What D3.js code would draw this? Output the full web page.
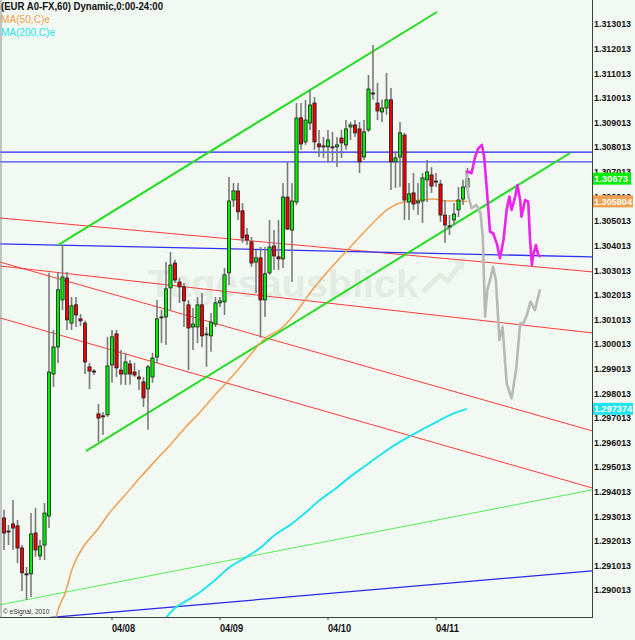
<!DOCTYPE html>
<html><head><meta charset="utf-8">
<script src="https://cdn.jsdelivr.net/npm/d3@7"></script>
<style>
html,body{margin:0;padding:0;background:#f2f8f2;}
svg{display:block;font-family:"Liberation Sans",Arial,sans-serif;}
</style></head><body>
<svg id="c" width="635" height="640"></svg>
<script>
// ---------- DATA ----------
const dayTicks = [24, 48, 72, 96];
const dayLabels = ["04/08", "04/09", "04/10", "04/11"];
const yTickLabels = ["1.313013","1.312013","1.311013","1.310013","1.309013","1.308013","1.307013","1.306013",
  "1.305013","1.304013","1.303013","1.302013","1.301013","1.300013","1.299013","1.298013","1.297013",
  "1.296013","1.295013","1.294013","1.293013","1.292013","1.291013","1.290013"];

const opens = [1.29294,1.29241,1.29270,1.29262,1.29172,1.29067,1.29067,1.29233,1.29140,1.29184,
1.29302,1.29879,1.29989,1.30180,1.30269,1.30086,1.30160,1.30103,1.30086,1.29908,
1.29891,1.29717,1.29709,1.29713,1.29916,1.30042,1.29895,1.29879,1.29920,1.29887,
1.29867,1.29847,1.29818,1.29867,1.29948,1.30107,1.30111,1.30229,1.30330,1.30253,
1.30233,1.30160,1.30070,1.30070,1.30160,1.30038,1.30034,1.30082,1.30168,1.30172,
1.30290,1.30586,1.30623,1.30542,1.30444,1.30416,1.30334,1.30351,1.30180,1.30290,
1.30399,1.30355,1.30347,1.30598,1.30464,1.30578,1.30920,1.30822,1.30899,1.30980,
1.30814,1.30806,1.30802,1.30802,1.30802,1.30838,1.30810,1.30883,1.30891,1.30875,
1.30761,1.30871,1.31021,1.30980,1.30944,1.30960,1.30993,1.30741,1.30761,1.30850,
1.30578,1.30615,1.30574,1.30582,1.30668,1.30688,1.30663,1.30651,1.30525,1.30477,
1.30505,1.30546,1.30590,1.30639];
const highs = [1.29327,1.29266,1.29367,1.29286,1.29184,1.29095,1.29314,1.29335,1.29205,1.29355,
1.30290,1.30058,1.30294,1.30403,1.30294,1.30192,1.30192,1.30123,1.30095,1.29924,
1.29899,1.29757,1.29725,1.30030,1.30058,1.30058,1.29977,1.29965,1.29936,1.29924,
1.29895,1.29867,1.29916,1.29965,1.30180,1.30139,1.30334,1.30375,1.30343,1.30269,
1.30249,1.30180,1.30147,1.30192,1.30208,1.30070,1.30127,1.30192,1.30192,1.30310,
1.30680,1.30655,1.30655,1.30574,1.30472,1.30436,1.30383,1.30395,1.30395,1.30505,
1.30464,1.30505,1.30655,1.30741,1.30655,1.30980,1.30980,1.30993,1.31033,1.31005,
1.30871,1.30842,1.30871,1.30863,1.30842,1.30871,1.30911,1.30903,1.30911,1.30903,
1.30911,1.31094,1.31216,1.31062,1.30993,1.31102,1.31041,1.30777,1.30903,1.30859,
1.30655,1.30696,1.30655,1.30696,1.30749,1.30720,1.30696,1.30668,1.30586,1.30525,
1.30574,1.30639,1.30668,1.30716];
const lows = [1.29164,1.29184,1.29164,1.29111,1.28997,1.28961,1.28973,1.29136,1.29123,1.29123,
1.29253,1.29826,1.29924,1.30139,1.30058,1.30058,1.30070,1.30074,1.29879,1.29818,
1.29875,1.29603,1.29631,1.29704,1.29843,1.29867,1.29835,1.29835,1.29835,1.29867,
1.29814,1.29745,1.29652,1.29843,1.29924,1.30005,1.29997,1.30139,1.30249,1.30168,
1.30070,1.29895,1.29977,1.30005,1.29989,1.29908,1.29969,1.30070,1.30151,1.30119,
1.30241,1.30558,1.30505,1.30412,1.30403,1.30314,1.30208,1.30026,1.30111,1.30282,
1.30302,1.30302,1.30310,1.30464,1.30253,1.30566,1.30790,1.30810,1.30871,1.30790,
1.30761,1.30757,1.30737,1.30741,1.30720,1.30757,1.30790,1.30830,1.30842,1.30696,
1.30749,1.30863,1.30993,1.30911,1.30903,1.30932,1.30627,1.30635,1.30639,1.30505,
1.30505,1.30546,1.30525,1.30493,1.30578,1.30615,1.30639,1.30497,1.30412,1.30444,
1.30485,1.30517,1.30566,1.30627];
const closes = [1.29233,1.29237,1.29253,1.29172,1.29071,1.29063,1.29229,1.29164,1.29180,1.29314,
1.29887,1.29989,1.30221,1.30273,1.30099,1.30156,1.30119,1.30095,1.29928,1.29891,
1.29887,1.29700,1.29707,1.29912,1.30030,1.29904,1.29879,1.29928,1.29879,1.29875,
1.29859,1.29782,1.29908,1.29944,1.30103,1.30111,1.30225,1.30322,1.30261,1.30233,
1.30176,1.30066,1.30082,1.30160,1.30034,1.30042,1.30090,1.30168,1.30176,1.30282,
1.30582,1.30623,1.30538,1.30432,1.30424,1.30330,1.30351,1.30180,1.30286,1.30395,
1.30359,1.30347,1.30598,1.30468,1.30582,1.30919,1.30814,1.30911,1.30972,1.30822,
1.30802,1.30805,1.30830,1.30801,1.30810,1.30818,1.30875,1.30891,1.30859,1.30741,
1.30863,1.31037,1.31020,1.30948,1.30960,1.30993,1.30741,1.30757,1.30859,1.30586,
1.30611,1.30570,1.30582,1.30676,1.30700,1.30643,1.30662,1.30525,1.30485,1.30481,
1.30529,1.30586,1.30639,1.30673];

// moving averages [hour, price]
const ma50 = [[10.7,1.28798],[11.7,1.28900],[13.6,1.28989],[15.3,1.29095],[17.6,1.29176],[20.7,1.29245],
[23.6,1.29318],[26.9,1.29387],[30.2,1.29457],[33.6,1.29526],[36.9,1.29591],[40.2,1.29660],[43.6,1.29725],
[46.9,1.29794],[49.8,1.29851],[52.0,1.29896],[54.7,1.29956],[57.6,1.30017],[62.0,1.30070],[65.3,1.30139],
[68.0,1.30208],[71.3,1.30282],[74.7,1.30351],[78.4,1.30424],[82.0,1.30493],[85.1,1.30546],[88.0,1.30574],
[92.4,1.30586],[95.3,1.30590],[98.4,1.30582],[101.3,1.30582],[102.9,1.305804]];
const ma200 = [[34.7,1.28859],[38.0,1.28928],[40.9,1.28961],[43.6,1.28993],[46.9,1.29042],[50.2,1.29095],
[53.6,1.29132],[56.9,1.29172],[60.2,1.29225],[63.6,1.29266],[66.9,1.29314],[70.2,1.29367],[73.6,1.29412],
[76.9,1.29461],[80.2,1.29505],[83.6,1.29550],[86.9,1.29591],[90.2,1.29627],[93.6,1.29660],[96.9,1.29692],
[100.2,1.29721],[102.9,1.297374]];

// projections [hour, price]
const projGray = [[102.7,1.30708],[103.2,1.30600],[103.9,1.30553],[105.0,1.30566],[105.9,1.30532],[106.4,1.30437],
[106.9,1.30112],[107.4,1.30221],[108.2,1.30275],[108.7,1.30315],[109.3,1.30261],[110.1,1.30017],[110.8,1.30071],
[111.7,1.29841],[112.8,1.29780],[113.8,1.29896],[114.7,1.30085],[115.4,1.30085],[116.2,1.30119],[117.0,1.30173],
[118.0,1.30139],[119.1,1.30223]];
const projMagenta = [[102.7,1.30700],[103.2,1.30701],[103.9,1.30695],[104.7,1.30762],[105.4,1.30796],[106.2,1.30810],
[106.7,1.30762],[107.3,1.30627],[108.0,1.30457],[108.7,1.30451],[109.5,1.30410],[110.2,1.30349],[111.0,1.30424],
[111.7,1.30546],[112.3,1.30600],[112.8,1.30546],[113.6,1.30600],[114.1,1.30647],[114.7,1.30586],[115.0,1.30518],
[115.8,1.30586],[116.5,1.30579],[116.9,1.30424],[117.3,1.30322],[117.6,1.30363],[118.2,1.30403],[118.7,1.30363],
[119.3,1.30356]];

// drawn trend lines [hour, price] endpoints
const greenUpper = [[12.0,1.30403],[96.2,1.31350]];
const greenLower = [[18.2,1.29566],[125.8,1.30777]];
const blueLevel1 = [[-1,1.30781],[131,1.30781]];
const blueLevel2 = [[-1,1.30741],[131,1.30741]];
const blueSlope = [[-0.9,1.30408],[130.7,1.30355]];
const redA = [[-0.9,1.30513],[130.7,1.30294]];
const redB = [[-0.9,1.30318],[130.7,1.30046]];
const redC = [[-0.9,1.30334],[130.7,1.29648]];
const redD = [[-0.9,1.30107],[130.7,1.29416]];
const greenThin = [[-0.9,1.28941],[130.7,1.29408]];
const blueBottom = [[-0.9,1.28872],[130.7,1.29079]];

const lastPrice = "1.30673", ma50Label = "1.305804", ma200Label = "1.297374";

// ---------- DRAW ----------
const svg = d3.select('#c');
const W = 635, H = 640, plotR = 592, plotB = 617;
const bg = '#f2f8f2';
const x = d3.scaleLinear().domain([0, 24]).range([4, 112]);
const y = d3.scaleLinear().domain([1.290013, 1.313013]).range([590, 24]);

svg.append('rect').attr('width', W).attr('height', H).attr('fill', bg);
svg.append('defs').append('clipPath').attr('id', 'pc')
  .append('rect').attr('x', 0).attr('y', 0).attr('width', plotR).attr('height', plotB);
const plot = svg.append('g').attr('clip-path', 'url(#pc)');

// watermark
const wm = plot.append('g').attr('opacity', 0.5);
wm.append('text').attr('x', 148).attr('y', 297).attr('font-size', 38).attr('font-weight', 'bold')
  .attr('fill', '#d6e2d6').attr('textLength', 270).attr('lengthAdjust', 'spacingAndGlyphs')
  .text('Tagesausblick');
wm.append('path').attr('d', 'M423,292 L440,275 L448,281 L462,262').attr('fill', 'none')
  .attr('stroke', '#d6e2d6').attr('stroke-width', 5);
wm.append('path').attr('d', 'M452,260 L465,258 L463,271 Z').attr('fill', '#d6e2d6');

const line = d3.line().x(d => x(d[0])).y(d => y(d[1]));
function seg(data, color, width) {
  plot.append('path').datum(data).attr('d', line).attr('fill', 'none')
    .attr('stroke', color).attr('stroke-width', width);
}
seg(greenThin, '#55ee55', 1);
seg(blueBottom, '#2828e8', 1.3);
seg(redA, '#ff3c3c', 1);
seg(redB, '#ff3c3c', 1);
seg(redC, '#ff3c3c', 1);
seg(redD, '#ff3c3c', 1);
seg(blueSlope, '#3030f0', 1.3);
seg(blueLevel1, '#2424f0', 1.2);
seg(blueLevel2, '#4848f0', 1.4);
seg(greenUpper, '#22dd22', 2);
seg(greenLower, '#22dd22', 2);

// moving averages
const curve = d3.line().x(d => x(d[0])).y(d => y(d[1])).curve(d3.curveMonotoneX);
plot.append('path').datum(ma200).attr('d', curve).attr('fill', 'none').attr('stroke', '#22e4ee').attr('stroke-width', 2);
plot.append('path').datum(ma50).attr('d', curve).attr('fill', 'none').attr('stroke', '#f0a050').attr('stroke-width', 1.5);

// candles
const idx = d3.range(opens.length);
const bw = 3.2;
plot.append('g').selectAll('line').data(idx).join('line')
  .attr('x1', i => x(i)).attr('x2', i => x(i))
  .attr('y1', i => y(highs[i])).attr('y2', i => y(lows[i]))
  .attr('stroke', '#7a7a7a').attr('stroke-width', 1.6);
plot.append('g').selectAll('rect').data(idx).join('rect')
  .attr('x', i => x(i) - bw / 2)
  .attr('y', i => y(Math.max(opens[i], closes[i])))
  .attr('width', bw)
  .attr('height', i => Math.max(1, Math.abs(y(opens[i]) - y(closes[i]))))
  .attr('fill', i => closes[i] >= opens[i] ? '#00ee00' : '#ee0000')
  .attr('stroke', '#202020').attr('stroke-width', 0.8);

// projections
plot.append('path').datum(projGray).attr('d', line).attr('fill', 'none')
  .attr('stroke', '#b8b8b8').attr('stroke-width', 2.6).attr('stroke-linejoin', 'round');
plot.append('path').datum(projMagenta).attr('d', line).attr('fill', 'none')
  .attr('stroke', '#ee22ee').attr('stroke-width', 2.6).attr('stroke-linejoin', 'round');

// frame
svg.append('line').attr('x1', 1).attr('x2', 1).attr('y1', 0).attr('y2', plotB).attr('stroke', '#909090');
svg.append('line').attr('x1', 0).attr('x2', plotR).attr('y1', plotB + 0.5).attr('y2', plotB + 0.5).attr('stroke', '#404040');
svg.append('line').attr('x1', plotR + 0.5).attr('x2', plotR + 0.5).attr('y1', 0).attr('y2', plotB + 1).attr('stroke', '#404040');

// y labels
svg.append('g').selectAll('text').data(yTickLabels).join('text')
  .attr('x', 594).attr('y', d => y(+d)).attr('dy', '0.36em')
  .attr('font-size', 9.6).attr('font-weight', 'bold').attr('fill', '#111')
  .attr('textLength', 37).attr('lengthAdjust', 'spacingAndGlyphs').text(d => d);

// x axis
const xa = svg.append('g');
xa.selectAll('line').data(dayTicks).join('line')
  .attr('x1', d => x(d)).attr('x2', d => x(d)).attr('y1', plotB).attr('y2', plotB + 3)
  .attr('stroke', '#404040');
xa.selectAll('text').data(dayTicks).join('text')
  .attr('x', d => x(d)).attr('y', 632).attr('font-size', 10.5).attr('font-weight', 'bold')
  .attr('fill', '#111').attr('textLength', 23).attr('lengthAdjust', 'spacingAndGlyphs')
  .text((d, i) => dayLabels[i]);

// price boxes
function box(price, text, fill, w, tl) {
  const cy = y(+price);
  svg.append('rect').attr('x', 593).attr('y', cy - 6).attr('width', w).attr('height', 12).attr('fill', fill);
  svg.append('text').attr('x', 594).attr('y', cy).attr('dy', '0.36em').attr('font-size', 9.6)
    .attr('font-weight', 'bold').attr('fill', '#fff')
    .attr('textLength', tl).attr('lengthAdjust', 'spacingAndGlyphs').text(text);
}
box(ma200Label, ma200Label, '#22e4ee', 40, 38);
box(ma50Label, ma50Label, '#f0a050', 40, 38);
box(lastPrice, lastPrice, '#00ee00', 38, 34);

// legend
svg.append('text').attr('x', 1).attr('y', 10).attr('font-size', 10.5).attr('font-weight', 'bold')
  .attr('fill', '#111').attr('textLength', 162).attr('lengthAdjust', 'spacingAndGlyphs')
  .text('(EUR A0-FX,60) Dynamic,0:00-24:00');
svg.append('text').attr('x', 1).attr('y', 23).attr('font-size', 10.5)
  .attr('fill', '#f0a050').attr('textLength', 49).attr('lengthAdjust', 'spacingAndGlyphs').text('MA(50,C)e');
svg.append('text').attr('x', 1).attr('y', 36).attr('font-size', 10.5)
  .attr('fill', '#22e4ee').attr('textLength', 54).attr('lengthAdjust', 'spacingAndGlyphs').text('MA(200,C)e');
svg.append('text').attr('x', 3).attr('y', 614).attr('font-size', 6.5)
  .attr('fill', '#333').text('© eSignal, 2010');
</script>
</body></html>
